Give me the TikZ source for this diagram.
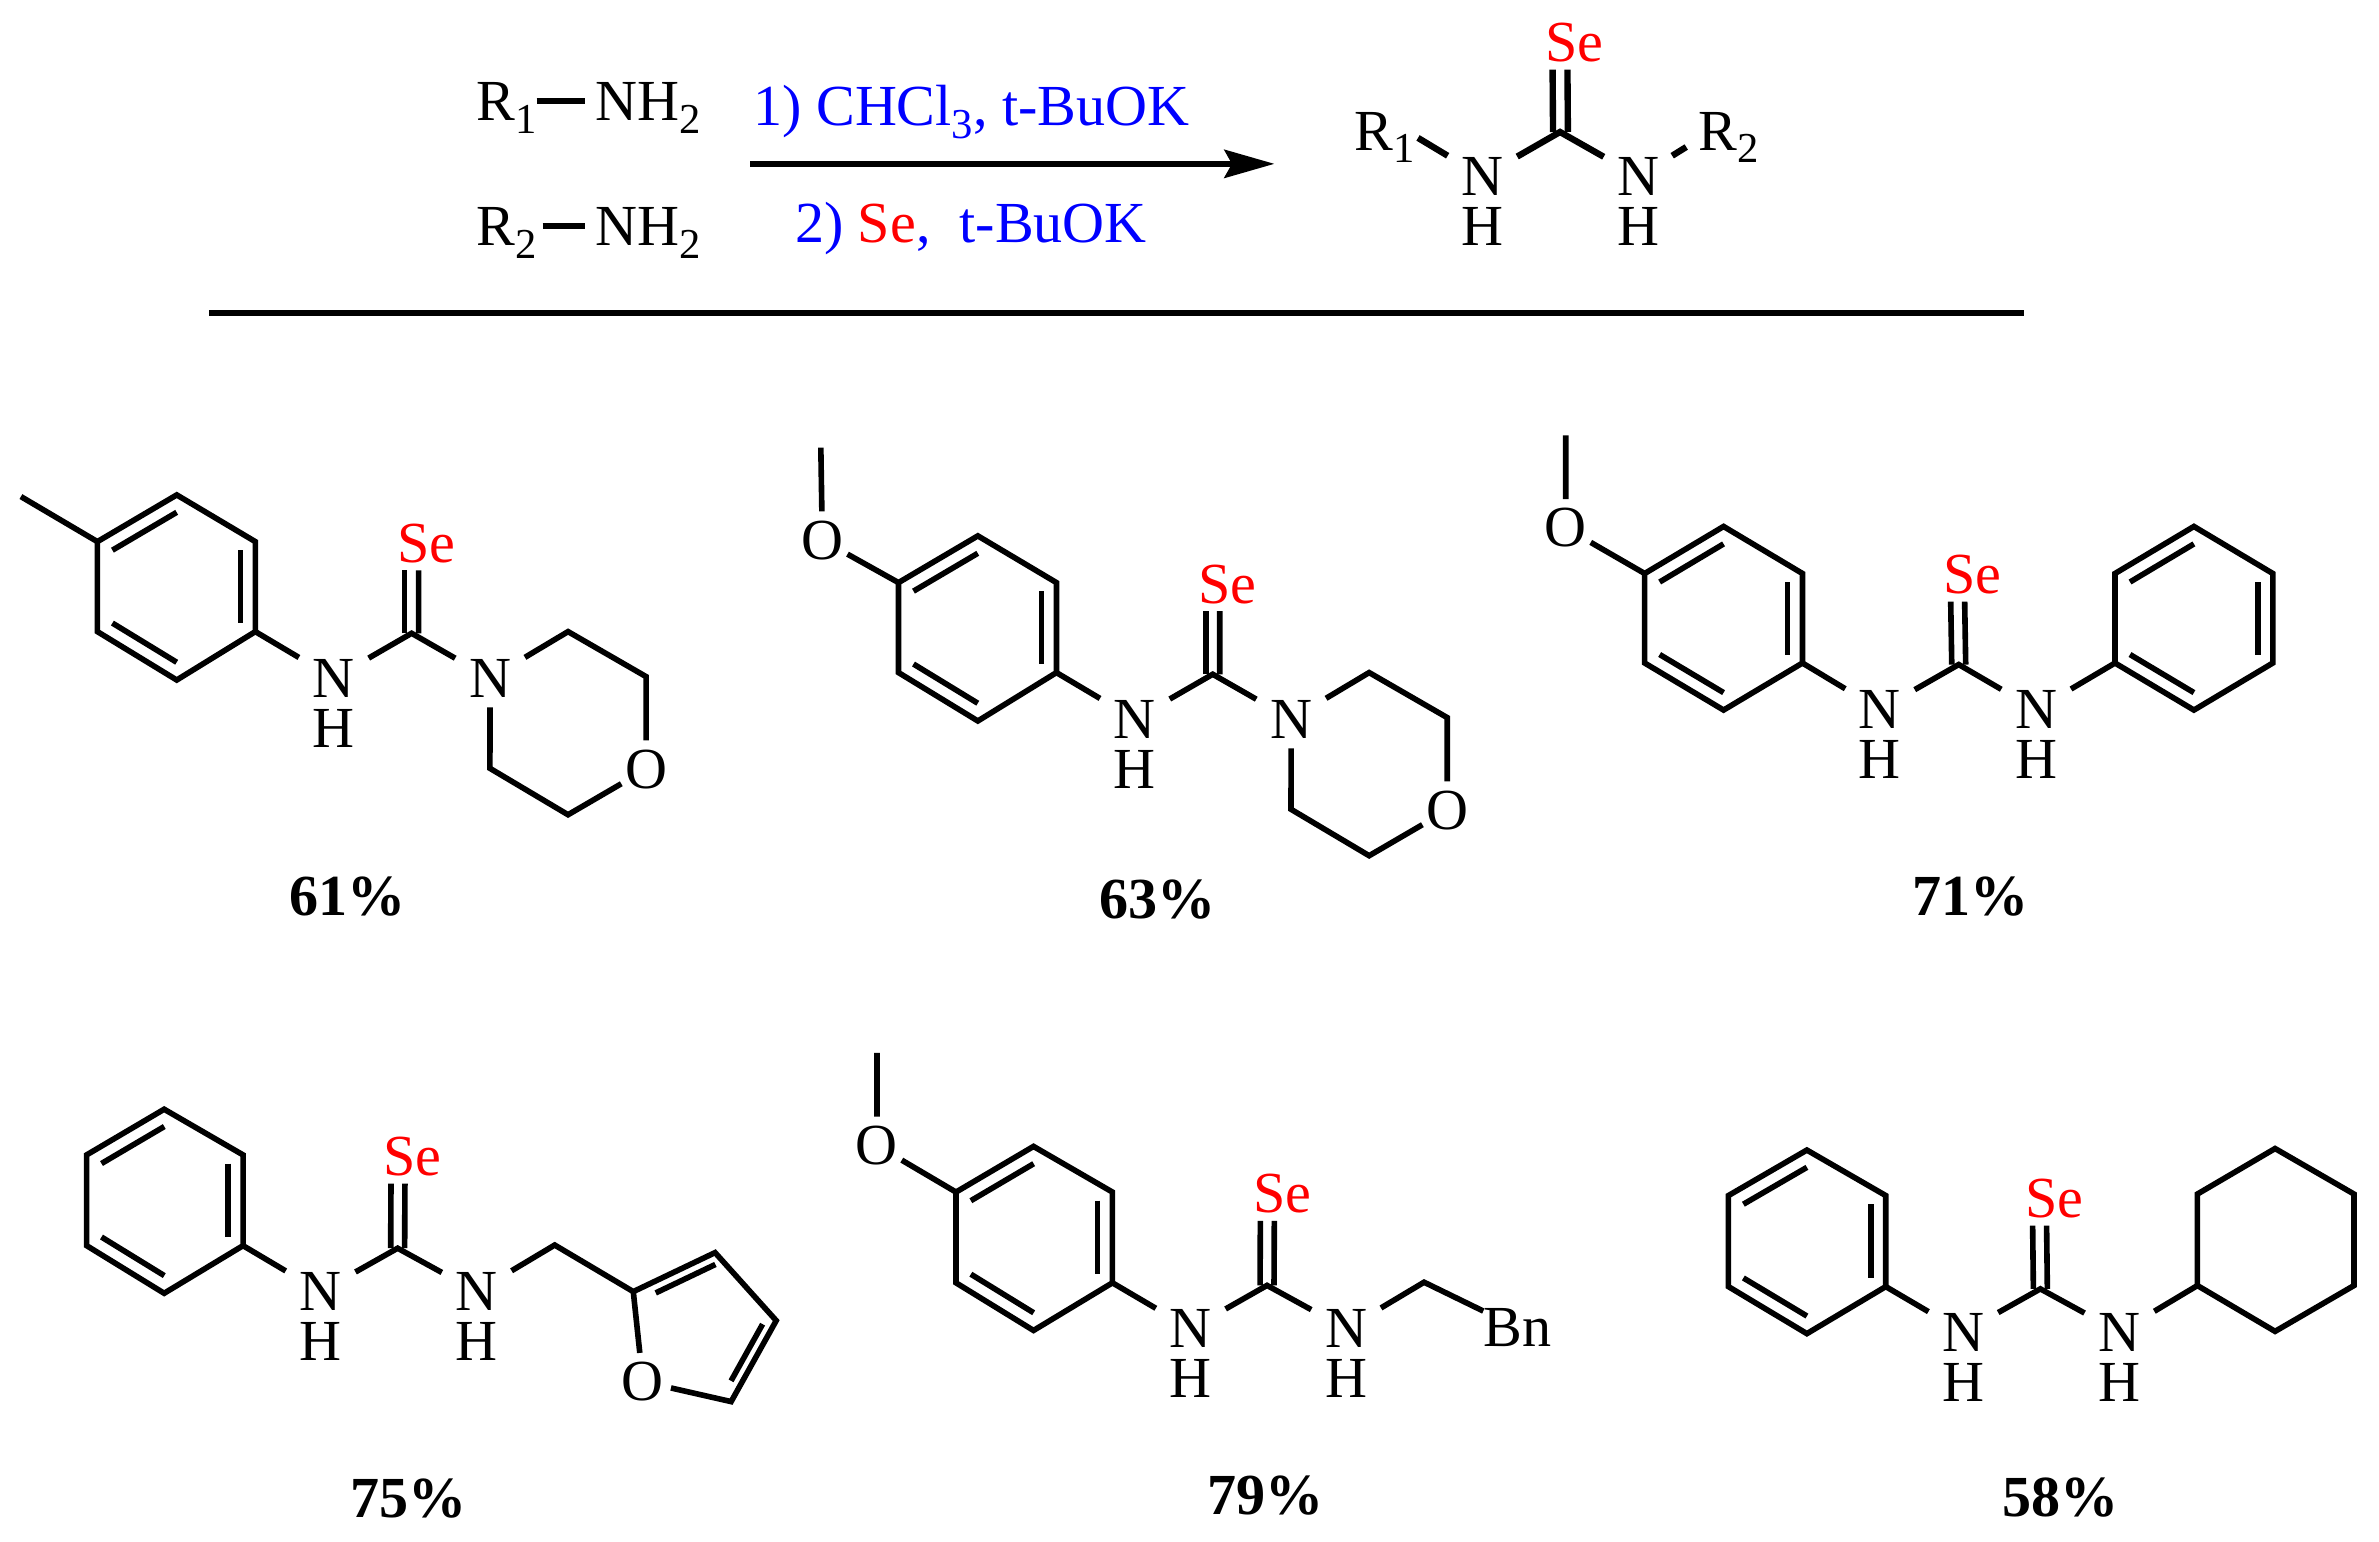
\documentclass[tikz,border=0pt]{standalone}
\usepackage{fontspec}
\setmainfont{Liberation Serif}
\usepackage{tikz}
\usetikzlibrary{arrows.meta, calc}

\newcommand{\chemsub}[1]{\raisebox{-0.22em}{\fontsize{16}{16}\selectfont #1}}

\begin{document}
\begin{tikzpicture}[
    x=0.02cm, y=-0.02cm,
    every node/.style={font=\fontsize{21.8}{24}\selectfont, inner sep=0pt, outer sep=0pt},
    bond/.style={line width=0.074cm},
    thickbond/.style={line width=0.084cm},
    arrow/.style={-{Stealth[length=0.66cm, width=0.37cm, inset=0.1cm]}, line width=0.08cm},
    atom/.style={minimum width=0.92cm, minimum height=0.55cm},
    oxygen/.style={circle, minimum size=0.76cm},
    selenium/.style={text=red},
    reagent/.style={text=blue, anchor=base west},
    formula/.style={anchor=base west},
    yieldtext/.style={font=\fontsize{21.8}{24}\selectfont\bfseries}
]
    \useasboundingbox (0,0) rectangle (1568,1016);

    % Amines
    \node[formula] (ra) at (314,79.5) {R\chemsub{1}};
    \node[formula] (na) at (392.7,79.5) {NH\chemsub{2}};
    \node[formula] (rb) at (314,162) {R\chemsub{2}};
    \node[formula] (nb) at (392.7,162) {NH\chemsub{2}};
    \draw[thickbond] ($(ra.base east)+(0,-13)$) -- ($(na.base west)+(-7,-13)$);
    \draw[thickbond] ($(rb.base east)+(4,-13)$) -- ($(nb.base west)+(-7,-13)$);

    % Reagents
    \node[reagent] (stepa) at (496.5,83) {1) CHCl\chemsub{3}, t-BuOK};
    \node[reagent] (stepb) at (524,160) {2) \textcolor{red}{Se}, \ t-BuOK};
    \coordinate (arrowstart) at (494.5,108);
    \coordinate (arrowend) at (840,108);
    \draw[arrow] (arrowstart) -- (arrowend);

    % Product
    \begin{scope}[name prefix=p-]
        \node[selenium] (se) at (1037.6,28) {Se};
        \coordinate (c) at (1028.2,87);
        \node[atom] (n1) at (977,116.4) {N};
        \node (h1) at (977,149.4) {H};
        \node[atom] (n2) at (1080,116.4) {N};
        \node (h2) at (1080,149.4) {H};
        \node[formula] (r1) at (893,98.9) {R\chemsub{1}};
        \node[formula] (r2) at (1119.4,98.9) {R\chemsub{2}};
        \draw[thickbond] ($(c)+(-4.6,0)$) -- ($(se.south)+(-14.3,5)$);
        \draw[thickbond] ($(c)+(5.2,0)$) -- ($(se.south)+(-4.5,5)$);
        \draw[thickbond] (n1) -- (c) -- (n2);
        \draw[thickbond] ($(r1.base east)+(2,-8)$) -- (n1);
        \draw[thickbond] (n2) -- ($(r2.base west)+(-8,-2)$);
    \end{scope}

    % Rule
    \coordinate (rulestart) at (138,206);
    \coordinate (ruleend) at (1334,206);
    \draw[line width=0.08cm] (rulestart) -- (ruleend);

    % 61%
    \begin{scope}[name prefix=a-]
        \coordinate (r1) at (64.2,357);
        \coordinate (r2) at (116.5,326.2);
        \coordinate (r3) at (168.3,357);
        \coordinate (r4) at (168.3,416.3);
        \coordinate (r5) at (116.5,448.2);
        \coordinate (r6) at (64.2,416.3);
        \coordinate (rc) at ($(r1)!0.5!(r4)$);
        \coordinate (me) at (13.8,327.3);
        \coordinate (c) at (271.3,417.4);
        \coordinate (m1) at (374.4,416.3);
        \coordinate (m2) at (425.9,446);
        \coordinate (m3) at (374.4,537);
        \coordinate (m4) at (322.9,506.4);
        \node[selenium] (se) at (281,358) {Se};
        \node[atom] (n1) at (220,447) {N};
        \node (h1) at (220,480) {H};
        \node[atom] (n2) at (323,447) {N};
        \node[oxygen] (o) at (425.9,507) {O};
        \draw[bond] (r1) -- (r2) -- (r3) -- (r4) -- (r5) -- (r6) -- cycle;
        \draw[bond] ($(rc)!0.81!(r1)$) -- ($(rc)!0.81!(r2)$);
        \draw[bond] ($(rc)!0.81!(r3)$) -- ($(rc)!0.81!(r4)$);
        \draw[bond] ($(rc)!0.81!(r5)$) -- ($(rc)!0.81!(r6)$);
        \draw[bond] (me) -- (r1);
        \draw[bond, shorten >=0.11cm] (r4) -- (n1) -- (c) -- (n2) -- (m1) -- (m2) -- (o) -- (m3) -- (m4) -- (n2);
        \draw[bond] ($(c)+(-4.6,0)$) -- ($(se.south)+(-14.3,5)$);
        \draw[bond] ($(c)+(4.6,0)$) -- ($(se.south)+(-5.1,5)$);
        \node[yieldtext] (y) at (229,591) {61\%};
    \end{scope}

    % 63%
    \begin{scope}[name prefix=b-]
        \coordinate (r1) at (592.2,384);
        \coordinate (r2) at (644.5,353.2);
        \coordinate (r3) at (696.3,384);
        \coordinate (r4) at (696.3,443.3);
        \coordinate (r5) at (644.5,475.2);
        \coordinate (r6) at (592.2,443.3);
        \coordinate (rc) at ($(r1)!0.5!(r4)$);
        \coordinate (me) at (541,295);
        \coordinate (c) at (799.3,444.4);
        \coordinate (m1) at (902.4,443.3);
        \coordinate (m2) at (953.9,473);
        \coordinate (m3) at (902.4,564);
        \coordinate (m4) at (850.9,533.4);
        \node[oxygen] (ome) at (542,356) {O};
        \node[selenium] (se) at (809,385) {Se};
        \node[atom] (n1) at (748,474) {N};
        \node (h1) at (748,507) {H};
        \node[atom] (n2) at (851,474) {N};
        \node[oxygen] (o) at (953.9,534) {O};
        \draw[bond] (r1) -- (r2) -- (r3) -- (r4) -- (r5) -- (r6) -- cycle;
        \draw[bond] ($(rc)!0.81!(r1)$) -- ($(rc)!0.81!(r2)$);
        \draw[bond] ($(rc)!0.81!(r3)$) -- ($(rc)!0.81!(r4)$);
        \draw[bond] ($(rc)!0.81!(r5)$) -- ($(rc)!0.81!(r6)$);
        \draw[bond] (me) -- (ome) -- (r1);
        \draw[bond, shorten >=0.11cm] (r4) -- (n1) -- (c) -- (n2) -- (m1) -- (m2) -- (o) -- (m3) -- (m4) -- (n2);
        \draw[bond] ($(c)+(-4.6,0)$) -- ($(se.south)+(-14.3,5)$);
        \draw[bond] ($(c)+(4.6,0)$) -- ($(se.south)+(-5.1,5)$);
        \node[yieldtext] (y) at (763,593) {63\%};
    \end{scope}

    % 71%
    \begin{scope}[name prefix=c-]
        \coordinate (r1) at (1084,378);
        \coordinate (r2) at (1136,347);
        \coordinate (r3) at (1188,378);
        \coordinate (r4) at (1188,437);
        \coordinate (r5) at (1136,468);
        \coordinate (r6) at (1084,437);
        \coordinate (rc) at ($(r1)!0.5!(r4)$);
        \coordinate (s1) at (1394,378);
        \coordinate (s2) at (1446,347);
        \coordinate (s3) at (1498,378);
        \coordinate (s4) at (1498,437);
        \coordinate (s5) at (1446,468);
        \coordinate (s6) at (1394,437);
        \coordinate (sc) at ($(s1)!0.5!(s4)$);
        \coordinate (me) at (1032,287);
        \coordinate (c) at (1291,438);
        \node[oxygen] (ome) at (1032,348) {O};
        \node[selenium] (se) at (1300,378.7) {Se};
        \node[atom] (n1) at (1239,467.7) {N};
        \node (h1) at (1239,500.7) {H};
        \node[atom] (n2) at (1342,467.7) {N};
        \node (h2) at (1342,500.7) {H};
        \draw[bond] (r1) -- (r2) -- (r3) -- (r4) -- (r5) -- (r6) -- cycle;
        \draw[bond] ($(rc)!0.81!(r1)$) -- ($(rc)!0.81!(r2)$);
        \draw[bond] ($(rc)!0.81!(r3)$) -- ($(rc)!0.81!(r4)$);
        \draw[bond] ($(rc)!0.81!(r5)$) -- ($(rc)!0.81!(r6)$);
        \draw[bond] (s1) -- (s2) -- (s3) -- (s4) -- (s5) -- (s6) -- cycle;
        \draw[bond] ($(sc)!0.81!(s1)$) -- ($(sc)!0.81!(s2)$);
        \draw[bond] ($(sc)!0.81!(s3)$) -- ($(sc)!0.81!(s4)$);
        \draw[bond] ($(sc)!0.81!(s5)$) -- ($(sc)!0.81!(s6)$);
        \draw[bond] (me) -- (ome) -- (r1);
        \draw[bond] (r4) -- (n1) -- (c) -- (n2) -- (s6);
        \draw[bond] ($(c)+(-4.6,0)$) -- ($(se.south)+(-14.3,5)$);
        \draw[bond] ($(c)+(4.6,0)$) -- ($(se.south)+(-5.1,5)$);
        \node[yieldtext] (y) at (1299,591) {71\%};
    \end{scope}

    % 75%
    \begin{scope}[name prefix=d-]
        \coordinate (r1) at (57.1,761.2);
        \coordinate (r2) at (108.2,731.1);
        \coordinate (r3) at (160.2,761.2);
        \coordinate (r4) at (160.2,821);
        \coordinate (r5) at (108.2,852.4);
        \coordinate (r6) at (57.1,821);
        \coordinate (rc) at ($(r1)!0.5!(r4)$);
        \coordinate (c) at (262.1,822.7);
        \coordinate (ch) at (365.6,820.6);
        \coordinate (f1) at (417.4,851.3);
        \coordinate (f2) at (471.3,825.6);
        \coordinate (f3) at (511.6,870.4);
        \coordinate (f4) at (481.9,923.8);
        \node[selenium] (se) at (272,762.3) {Se};
        \node[atom] (n1) at (211.3,851.3) {N};
        \node (h1) at (211.3,884.3) {H};
        \node[atom] (n2) at (314.2,851.3) {N};
        \node (h2) at (314.2,884.3) {H};
        \node[oxygen] (o) at (423.7,910.6) {O};
        \draw[bond] (r1) -- (r2) -- (r3) -- (r4) -- (r5) -- (r6) -- cycle;
        \draw[bond] ($(rc)!0.81!(r1)$) -- ($(rc)!0.81!(r2)$);
        \draw[bond] ($(rc)!0.81!(r3)$) -- ($(rc)!0.81!(r4)$);
        \draw[bond] ($(rc)!0.81!(r5)$) -- ($(rc)!0.81!(r6)$);
        \draw[bond] (r4) -- (n1) -- (c) -- (n2) -- (ch) -- (f1) -- (f2) -- (f3) -- (f4) -- (o) -- (f1);
        \draw[bond] ($(f1)!0.2!(f2)+(4,6)$) -- ($(f1)!0.93!(f2)+(4,6)$);
        \draw[bond] ($(f3)!0.1!(f4)+(-6,-3)$) -- ($(f3)!0.8!(f4)+(-6,-3)$);
        \draw[bond] ($(c)+(-4.6,0)$) -- ($(se.south)+(-14.3,5)$);
        \draw[bond] ($(c)+(4.6,0)$) -- ($(se.south)+(-5.1,5)$);
        \node[yieldtext] (y) at (269,988) {75\%};
    \end{scope}

    % 79%
    \begin{scope}[name prefix=e-]
        \coordinate (r1) at (630.1,785.7);
        \coordinate (r2) at (681.2,755.6);
        \coordinate (r3) at (733.2,785.7);
        \coordinate (r4) at (733.2,845.5);
        \coordinate (r5) at (681.2,876.9);
        \coordinate (r6) at (630.1,845.5);
        \coordinate (rc) at ($(r1)!0.5!(r4)$);
        \coordinate (me) at (578,694);
        \coordinate (c) at (835.1,847.2);
        \coordinate (ch) at (938.6,845.1);
        \node[oxygen] (ome) at (578,755) {O};
        \node[selenium] (se) at (845,786.8) {Se};
        \node[atom] (n1) at (784.8,875.8) {N};
        \node (h1) at (784.8,908.8) {H};
        \node[atom] (n2) at (887.2,875.8) {N};
        \node (h2) at (887.2,908.8) {H};
        \node (bn) at (1000,875) {Bn};
        \draw[bond] (r1) -- (r2) -- (r3) -- (r4) -- (r5) -- (r6) -- cycle;
        \draw[bond] ($(rc)!0.81!(r1)$) -- ($(rc)!0.81!(r2)$);
        \draw[bond] ($(rc)!0.81!(r3)$) -- ($(rc)!0.81!(r4)$);
        \draw[bond] ($(rc)!0.81!(r5)$) -- ($(rc)!0.81!(r6)$);
        \draw[bond] (me) -- (ome) -- (r1);
        \draw[bond] (r4) -- (n1) -- (c) -- (n2) -- (ch) -- (bn);
        \draw[bond] ($(c)+(-4.6,0)$) -- ($(se.south)+(-14.3,5)$);
        \draw[bond] ($(c)+(4.6,0)$) -- ($(se.south)+(-5.1,5)$);
        \node[yieldtext] (y) at (834,986) {79\%};
    \end{scope}

    % 58%
    \begin{scope}[name prefix=f-]
        \coordinate (r1) at (1139.2,788);
        \coordinate (r2) at (1190.9,758);
        \coordinate (r3) at (1242.9,788);
        \coordinate (r4) at (1242.9,848);
        \coordinate (r5) at (1190.9,879);
        \coordinate (r6) at (1139.2,848);
        \coordinate (rc) at ($(r1)!0.5!(r4)$);
        \coordinate (c) at (1344.8,849.5);
        \coordinate (x1) at (1448.3,847.3);
        \coordinate (x2) at (1448.3,787);
        \coordinate (x3) at (1499.5,757);
        \coordinate (x4) at (1551.5,787);
        \coordinate (x5) at (1551.5,847.3);
        \coordinate (x6) at (1499.5,877.5);
        \node[selenium] (se) at (1354,790) {Se};
        \node[atom] (n1) at (1294,878) {N};
        \node (h1) at (1294,911) {H};
        \node[atom] (n2) at (1396.9,878) {N};
        \node (h2) at (1396.9,911) {H};
        \draw[bond] (r1) -- (r2) -- (r3) -- (r4) -- (r5) -- (r6) -- cycle;
        \draw[bond] ($(rc)!0.81!(r1)$) -- ($(rc)!0.81!(r2)$);
        \draw[bond] ($(rc)!0.81!(r3)$) -- ($(rc)!0.81!(r4)$);
        \draw[bond] ($(rc)!0.81!(r5)$) -- ($(rc)!0.81!(r6)$);
        \draw[bond] (x1) -- (x2) -- (x3) -- (x4) -- (x5) -- (x6) -- cycle;
        \draw[bond] (r4) -- (n1) -- (c) -- (n2) -- (x1);
        \draw[bond] ($(c)+(-4.6,0)$) -- ($(se.south)+(-14.3,5)$);
        \draw[bond] ($(c)+(4.6,0)$) -- ($(se.south)+(-5.1,5)$);
        \node[yieldtext] (y) at (1358,987) {58\%};
    \end{scope}

\end{tikzpicture}
\end{document}
